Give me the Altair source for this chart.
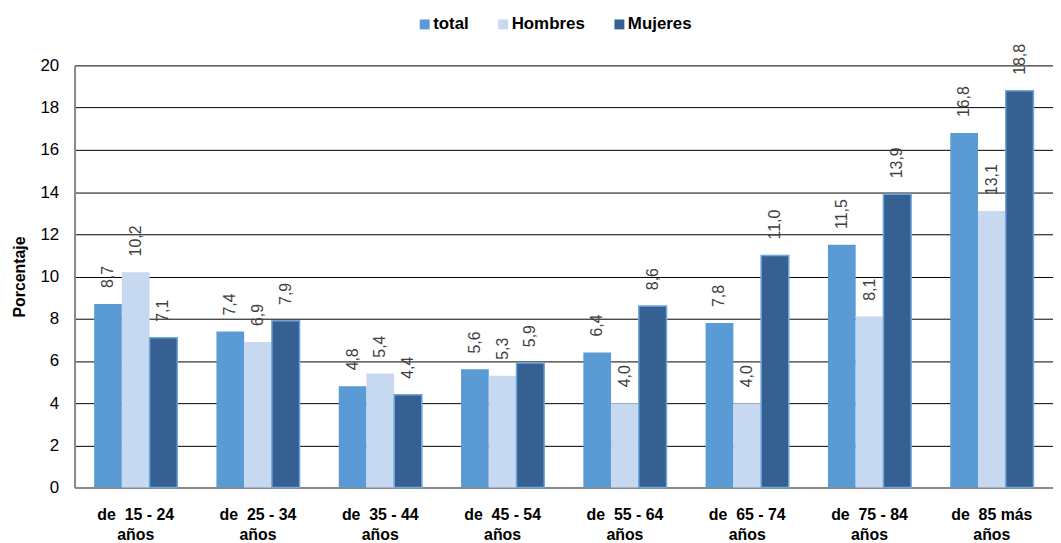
import altair as alt
import pandas as pd

NB = "\u00a0"
categories = ["de" + NB + NB + "15 - 24 años", "de" + NB + NB + "25 - 34 años",
              "de" + NB + NB + "35 - 44 años", "de" + NB + NB + "45 - 54 años",
              "de" + NB + NB + "55 - 64 años", "de" + NB + NB + "65 - 74 años",
              "de" + NB + NB + "75 - 84 años", "de" + NB + NB + "85 más años"]
series = ["total", "Hombres", "Mujeres"]
total = [8.7, 7.4, 4.8, 5.6, 6.4, 7.8, 11.5, 16.8]
hombres = [10.2, 6.9, 5.4, 5.3, 4.0, 4.0, 8.1, 13.1]
mujeres = [7.1, 7.9, 4.4, 5.9, 8.6, 11.0, 13.9, 18.8]
colors = ["#5b9bd5", "#c6d9f0", "#366092"]

rows = []
for name, vals in zip(series, [total, hombres, mujeres]):
    for c, v in zip(categories, vals):
        rows.append({"grupo": c, "serie": name, "valor": v})
df = pd.DataFrame(rows)

FONT = "Liberation Sans"

x = alt.X("grupo:N", sort=categories, title=None,
          scale=alt.Scale(paddingInner=0.32, paddingOuter=0.16),
          axis=alt.Axis(labelAngle=0, labelExpr="[replace(datum.label, ' años', ''), 'años']",
                        labelFont=FONT, labelFontWeight="bold", labelFontSize=16,
                        labelColor="#000", labelPadding=19, labelLineHeight=20,
                        domainColor="#888", domainWidth=2, ticks=False))
xo = alt.XOffset("serie:N", sort=series, scale=alt.Scale(paddingInner=0, paddingOuter=0))
y = alt.Y("valor:Q", title="Porcentaje",
          scale=alt.Scale(domain=[0, 20], nice=False),
          axis=alt.Axis(values=list(range(0, 21, 2)), labelFont=FONT, labelFontSize=17,
                        labelColor="#000", labelPadding=16, ticks=False,
                        titleFont=FONT, titleFontWeight="bold",
                        titleFontSize=16, titleColor="#000", titlePadding=12,
                        domainColor="#888", domainWidth=2,
                        gridColor="#000", gridWidth=1))

bars = alt.Chart(df).mark_bar().encode(
    x=x, xOffset=xo, y=y,
    color=alt.Color("serie:N", sort=series,
                    scale=alt.Scale(domain=series, range=colors),
                    legend=alt.Legend(title=None, orient="none", direction="horizontal",
                                      legendX=344, legendY=-50, symbolType="square",
                                      symbolSize=100, symbolStrokeWidth=0,
                                      labelFont=FONT, labelFontWeight="bold", labelFontSize=17,
                                      labelColor="#000", columnPadding=26, labelOffset=0)),
    stroke=alt.condition(alt.datum.serie == "Mujeres", alt.value("#6fa6dd"), alt.value("transparent")),
    strokeWidth=alt.condition(alt.datum.serie == "Mujeres", alt.value(1.5), alt.value(0)),
)

labels = alt.Chart(df).transform_calculate(
    txt="replace(format(datum.valor, '.1f'), '.', ',')"
).mark_text(angle=270, align="left", baseline="middle", dx=16, font=FONT,
            fontSize=16, color="#404040").encode(
    x=x, xOffset=xo, y=y, text="txt:N")

chart = alt.layer(bars, labels).properties(
    width=985, height=425,
    autosize=alt.AutoSizeParams(type="none"),
    padding={"left": 67, "top": 56, "right": 0, "bottom": 54},
).configure_view(stroke=None)

chart.save("out.html", embed_options={"renderer": "svg", "actions": False})
